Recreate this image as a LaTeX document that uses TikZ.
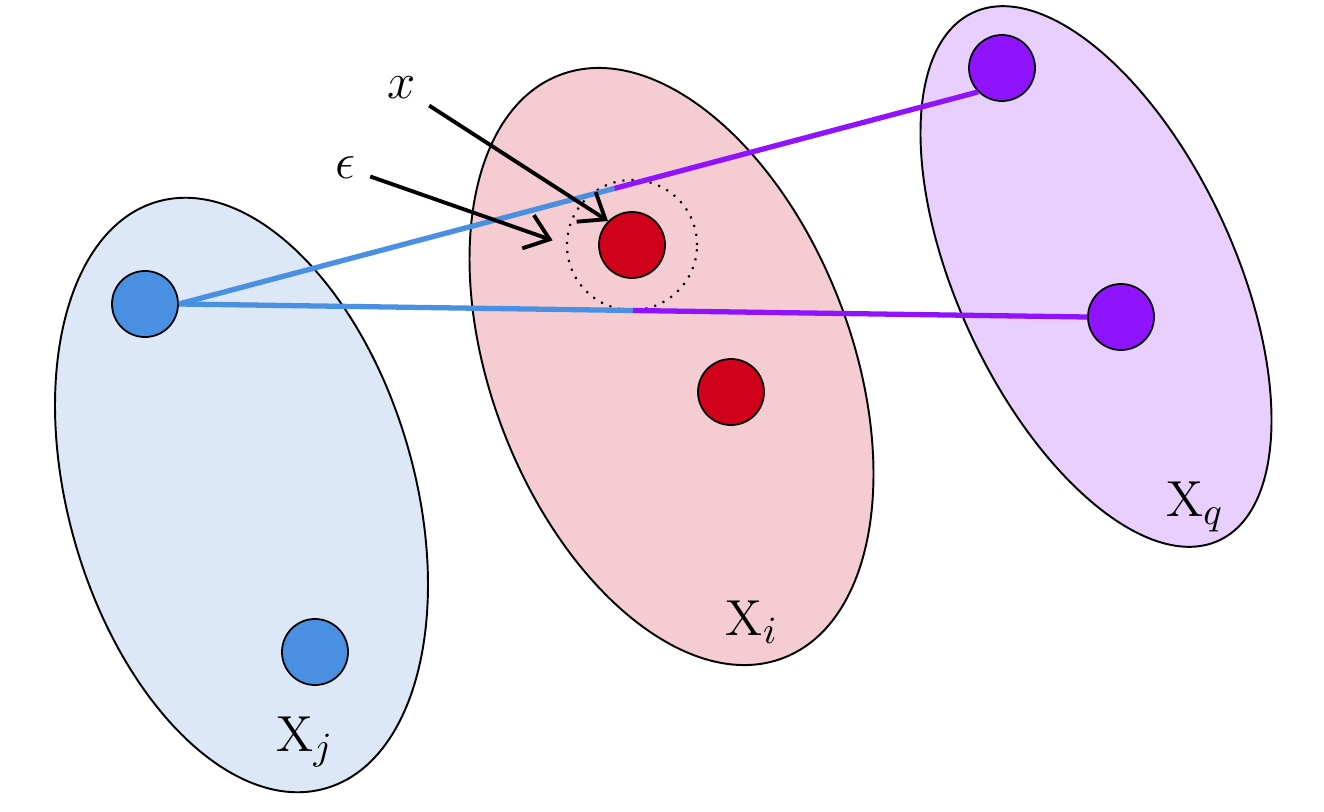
\documentclass[tikz,border=0pt]{standalone}
\usepackage{amsmath,amssymb}
\usepackage{tikz}
\usetikzlibrary{arrows.meta,positioning,shapes,calc}
\definecolor{ptBlue}{HTML}{4A90E2}
\definecolor{ptRed}{HTML}{D0021B}
\definecolor{ptPurple}{HTML}{9013FE}
\definecolor{bgBlue}{HTML}{DCE8F7}
\definecolor{bgPink}{HTML}{F5CCD2}
\definecolor{bgPurple}{HTML}{E8CFFD}
\tikzset{
    cluster/.style={ellipse, draw, line width=0.55pt, inner sep=0pt},
    point/.style={circle, draw, line width=0.5pt, minimum size=0.66cm, inner sep=0pt},
    setLabel/.style={font=\fontsize{15}{17}\selectfont, inner sep=1pt},
    lineBlue/.style={draw, line width=1.5pt, ptBlue},
    linePurple/.style={draw, line width=1.5pt, ptPurple},
    pointer/.style={draw, -{Straight Barb[length=6.5pt,width=10pt,line width=1.1pt]}, line width=1.1pt}
}

\begin{document}
\begin{tikzpicture}[x=0.01cm, y=-0.01cm]
  \useasboundingbox (0,0) rectangle (1324,812);

  % the three sets
  \node [cluster, fill=bgBlue, minimum width=3.46cm, minimum height=6.10cm, rotate=16] (Xj) at (241.5,495) {};
  \node [cluster, fill=bgPink, minimum width=3.60cm, minimum height=6.24cm, rotate=21] (Xi) at (671.5,366.5) {};
  \node [cluster, fill=bgPurple, minimum width=2.76cm, minimum height=5.82cm, rotate=25] (Xq) at (1096,276.5) {};

  \node [setLabel] (labJ) at (305,742) {$\mathrm{X}_j$};
  \node [setLabel] (labI) at (752,622) {$\mathrm{X}_i$};
  \node [setLabel] (labQ) at (1195,507) {$\mathrm{X}_q$};

  % points
  \node [point, fill=ptBlue] (B1) at (145,304) {};
  \node [point, fill=ptBlue] (B2) at (315,652) {};
  \node [point, fill=ptPurple] (P1) at (1002,68) {};
  \node [point, fill=ptPurple] (P2) at (1121,317) {};
  \node [circle, draw, dotted, line width=0.6pt, minimum size=1.30cm, inner sep=0pt] (ball) at (632,245) {};

  % distances
  \path (B1.east) -- coordinate[pos=0.545] (cutA) (P1.south west);
  \path (B1.east) -- coordinate[pos=0.5] (cutB) (P2.west);
  \draw[lineBlue] (B1.east) -- (cutA);
  \draw[linePurple] (cutA) -- (P1.south west);
  \draw[lineBlue] (B1.east) -- (cutB);
  \draw[linePurple] (cutB) -- (P2.west);

  \node [point, fill=ptRed] (R1) at (632,245) {};
  \node [point, fill=ptRed] (R2) at (731,392) {};

  % annotations
  \node [setLabel] (labX) at (402,88) {$x$};
  \node [setLabel] (labEps) at (346,168) {$\epsilon$};
  \draw[pointer, shorten <=3pt] (labX) -- (R1.north west);
  \draw[pointer, shorten <=3pt, shorten >=4pt] (labEps) -- (ball.west);
\end{tikzpicture}
\end{document}
